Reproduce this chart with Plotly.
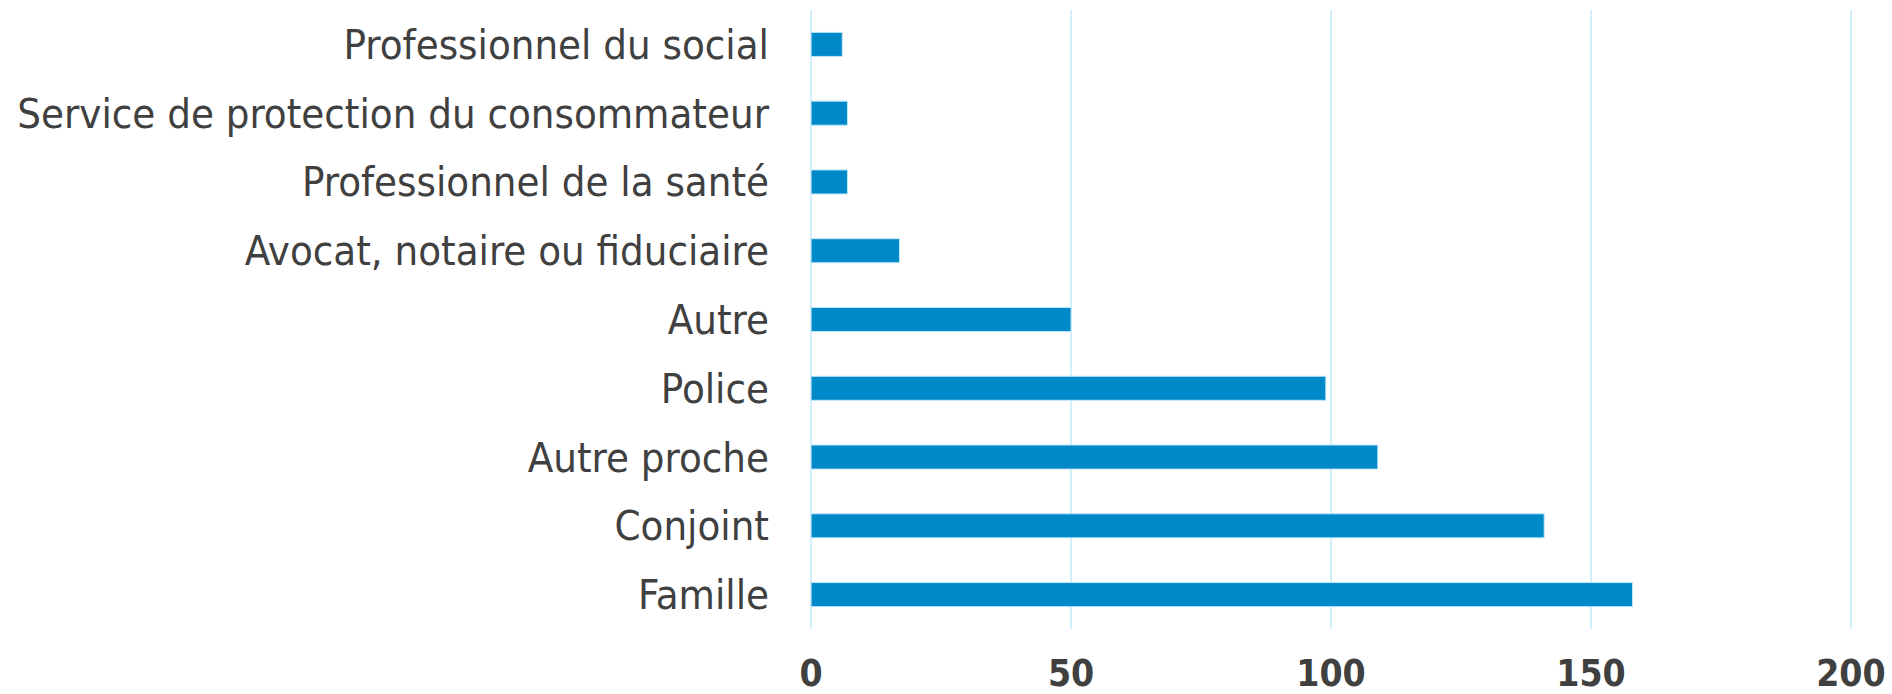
import plotly.graph_objects as go

categories = [
    "Professionnel du social",
    "Service de protection du consommateur",
    "Professionnel de la santé",
    "Avocat, notaire ou fiduciaire",
    "Autre",
    "Police",
    "Autre proche",
    "Conjoint",
    "Famille",
]
values = [6, 7, 7, 17, 50, 99, 109, 141, 158]
x_ticks = [0, 50, 100, 150, 200]

fig = go.Figure(
    go.Bar(
        x=values,
        y=categories,
        orientation="h",
        marker=dict(color="#0089C9", line=dict(color="#BFE6FA", width=1)),
        width=0.35,
    )
)

fig.update_layout(
    width=1892,
    height=694,
    margin=dict(l=809, r=39, t=10, b=65),
    paper_bgcolor="white",
    plot_bgcolor="white",
    showlegend=False,
    bargap=0.65,
)

fig.update_xaxes(
    range=[-0.4, 200.4],
    tickvals=x_ticks,
    ticktext=[str(t) for t in x_ticks],
    showgrid=True,
    gridcolor="#D3EEFC",
    gridwidth=2,
    zeroline=False,
    showline=False,
    ticks="",
    automargin=False,
    tickfont=dict(family="DejaVu Sans Condensed", size=37, color="#404040", weight="bold"),
    ticklabelstandoff=19,
)

fig.update_yaxes(
    autorange="reversed",
    showgrid=False,
    zeroline=False,
    showline=False,
    ticks="",
    automargin=False,
    tickfont=dict(family="DejaVu Sans Condensed", size=41.5, color="#404040"),
    ticklabelstandoff=39,
)

fig.write_html(
    "out.html",
    config={"displayModeBar": False},
    post_script="document.body.style.margin='0';document.body.style.overflow='hidden';",
)
